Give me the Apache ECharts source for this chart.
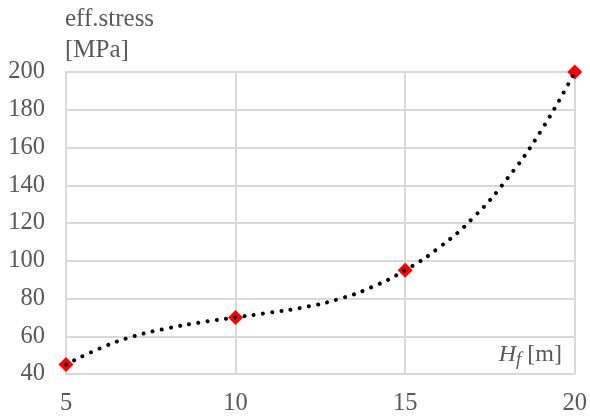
<!DOCTYPE html>
<html>
<head>
<meta charset="utf-8">
<script src="https://cdn.jsdelivr.net/npm/echarts@6/dist/echarts.min.js"></script>
<style>
  html, body { margin: 0; padding: 0; background: #fff; }
  #chart { width: 590px; height: 416px; }
</style>
</head>
<body>
<div id="chart"></div>
<script>
// Foundation height H_f [m] against effective stress [MPa]
const heights = [5, 10, 15, 20];
const stress = [45, 70, 95, 200];

// Dotted trend curve, sampled every metre
const trendHeights = [5, 6, 7, 8, 9, 10, 11, 12, 13, 14, 15, 16, 17, 18, 19, 20];
const trendStress = [45, 53.6, 60, 64.2, 67.4, 70, 72.5, 75.3, 79.5, 85.9, 95, 107, 122.7, 143.3, 168.7, 200];

const xTicks = [5, 10, 15, 20];
const yTicks = [40, 60, 80, 100, 120, 140, 160, 180, 200];

const points = heights.map((h, i) => [h, stress[i]]);
const trend = trendHeights.map((h, i) => [h, trendStress[i]]);

const serif = '"Liberation Serif", "Times New Roman", serif';
const grey = '#595959';
const gridGrey = '#d9d9d9';

const chart = echarts.init(document.getElementById('chart'));
chart.setOption({
  animation: false,
  backgroundColor: '#fff',
  grid: { left: 66, right: 14, top: 72, bottom: 40, containLabel: false },
  xAxis: {
    type: 'value',
    min: xTicks[0],
    max: xTicks[xTicks.length - 1],
    interval: xTicks[1] - xTicks[0],
    axisLine: { show: true, lineStyle: { color: gridGrey, width: 2 } },
    axisTick: { show: false },
    splitLine: { show: true, lineStyle: { color: gridGrey, width: 2 } },
    axisLabel: { color: grey, fontFamily: serif, fontSize: 24.5, margin: 17 }
  },
  yAxis: {
    type: 'value',
    min: yTicks[0],
    max: yTicks[yTicks.length - 1],
    interval: yTicks[1] - yTicks[0],
    axisLine: { show: true, lineStyle: { color: gridGrey, width: 2 } },
    axisTick: { show: false },
    splitLine: { show: true, lineStyle: { color: gridGrey, width: 2 } },
    axisLabel: { color: grey, fontFamily: serif, fontSize: 24.5, margin: 21 }
  },
  graphic: [
    {
      type: 'text', left: 65, top: 4,
      style: { text: 'eff.stress\n[MPa]', fill: grey, font: '25px ' + serif, lineHeight: 31 }
    },
    {
      type: 'text', right: 28, top: 343,
      style: {
        text: '{i|H}{s|f}{n| [m]}',
        rich: {
          i: { fill: grey, fontFamily: serif, fontStyle: 'italic', fontSize: 24 },
          s: { fill: grey, fontFamily: serif, fontStyle: 'italic', fontSize: 19, padding: [10, 0, 0, 0] },
          n: { fill: grey, fontFamily: serif, fontSize: 24 }
        }
      }
    }
  ],
  series: [
    {
      type: 'scatter',
      data: points,
      symbol: 'diamond',
      symbolSize: 15,
      itemStyle: { color: '#ff0000', opacity: 1 },
      z: 2
    },
    {
      type: 'line',
      data: trend,
      smooth: true,
      showSymbol: false,
      symbol: 'none',
      lineStyle: { color: '#000', width: 4, type: [0.01, 9.3], cap: 'round' },
      z: 3
    }
  ]
});
</script>
</body>
</html>
